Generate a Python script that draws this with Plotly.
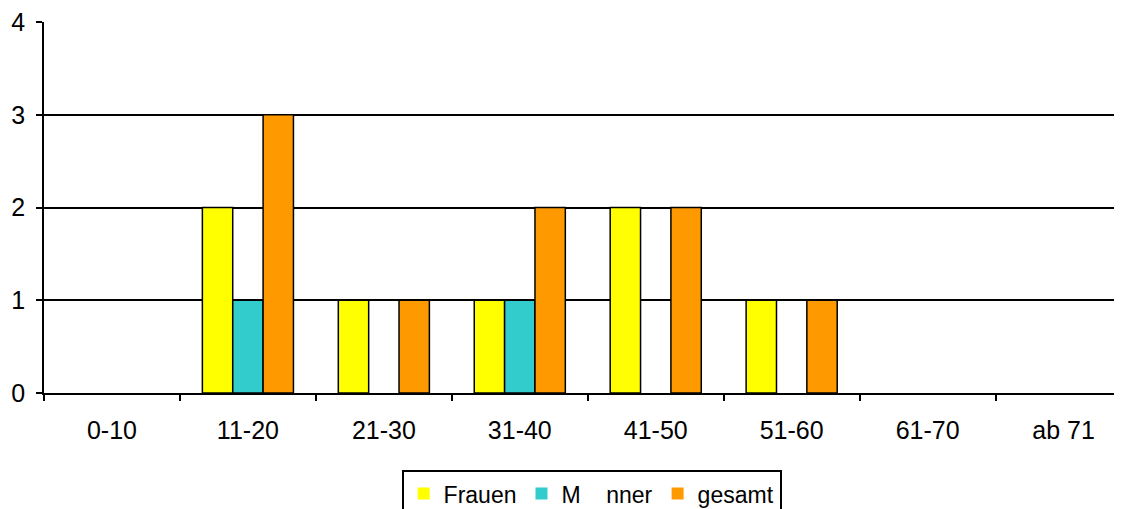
import plotly.graph_objects as go

categories = ["0-10", "11-20", "21-30", "31-40", "41-50", "51-60", "61-70", "ab 71"]
frauen = [0, 2, 1, 1, 2, 1, 0, 0]
maenner = [0, 1, 0, 1, 0, 0, 0, 0]
gesamt = [0, 3, 1, 2, 2, 1, 0, 0]
y_ticks = [0, 1, 2, 3, 4]

series = [
    ("Frauen", frauen, "#FFFF00"),
    ("M\u00a0\u00a0\u00a0\u00a0nner", maenner, "#33CCCC"),
    ("gesamt", gesamt, "#FF9900"),
]

fig = go.Figure()
for name, vals, col in series:
    fig.add_trace(go.Bar(
        x=categories, y=vals, name=name,
        marker=dict(color=col, line=dict(color="black",
                                         width=[1.5 if v else 0 for v in vals])),
    ))

# page body has an 8px margin; figure sized so the page fits the window
fig.update_layout(
    width=1114, height=501,
    margin=dict(l=36, r=0, t=14, b=116, autoexpand=False),
    paper_bgcolor="white", plot_bgcolor="white",
    barmode="group", bargap=0.33, bargroupgap=0,
    font=dict(family="Liberation Sans, Arial, sans-serif", size=25, color="black"),
    showlegend=True,
    legend=dict(
        orientation="h", x=0.508, xanchor="center", y=-0.208, yanchor="top",
        bordercolor="black", borderwidth=2, bgcolor="white",
        font=dict(size=23), itemwidth=30, tracegroupgap=0,
    ),
    xaxis=dict(
        type="category", range=[-0.5, 7.43], automargin=False,
        showline=True, linecolor="black", linewidth=1.5,
        ticks="outside", tickson="boundaries", ticklen=6, tickcolor="black", tickwidth=1.5,
        tickfont=dict(size=25), ticklabelstandoff=14, ticklabeloverflow="allow",
        showgrid=False, zeroline=False,
    ),
    yaxis=dict(
        range=[0, 4], tickvals=y_ticks, automargin=False,
        showline=True, linecolor="black", linewidth=1.5,
        ticks="outside", ticklen=6, tickcolor="black", tickwidth=1.5,
        tickfont=dict(size=25), ticklabelstandoff=6, ticklabeloverflow="allow",
        showgrid=True, gridcolor="black", gridwidth=1.5,
        zeroline=False,
    ),
)

fig.write_html("out.html")
